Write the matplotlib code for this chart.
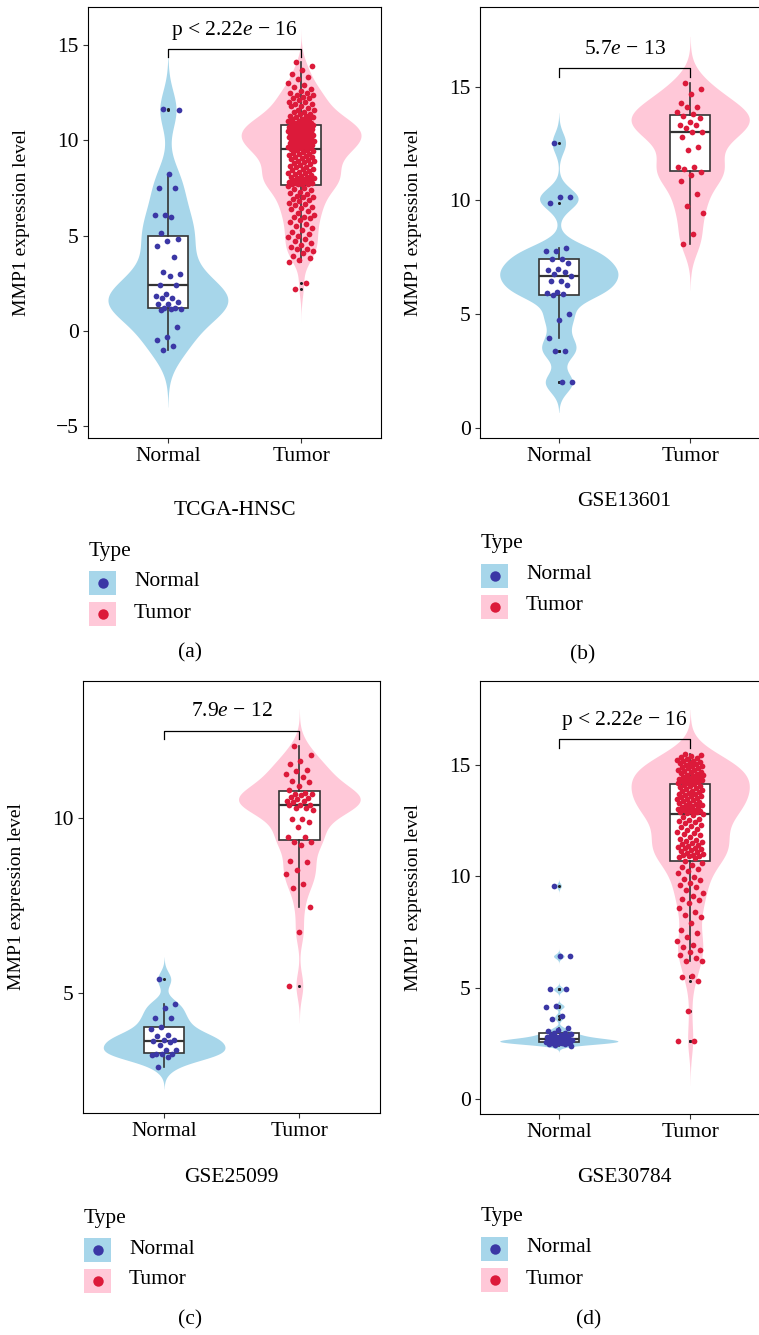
import numpy as np
import matplotlib
matplotlib.use("Agg")
import matplotlib.pyplot as plt
from matplotlib.patches import Rectangle
from matplotlib.lines import Line2D

plt.rcParams['font.family'] = ['Liberation Serif', 'DejaVu Serif']
plt.rcParams['mathtext.fontset'] = 'custom'
plt.rcParams['mathtext.rm'] = 'Liberation Serif'
plt.rcParams['mathtext.it'] = 'Liberation Serif:italic'

# ---------------- data ----------------
groups = ["Normal", "Tumor"]
datasets = ["TCGA-HNSC", "GSE13601", "GSE25099", "GSE30784"]
pvalues = [r"p < 2.22$\mathit{e}$ − 16", r"5.7$\mathit{e}$ − 13",
           r"7.9$\mathit{e}$ − 12", r"p < 2.22$\mathit{e}$ − 16"]
captions = ["(a)", "(b)", "(c)", "(d)"]

tcga_normal = [11.62, 11.6, 8.23, 7.51, 7.51, 6.1, 6.1, 5.99, 5.11, 4.83, 4.73,
               4.45, 3.89, 3.07, 2.96, 2.87, 2.4, 2.4, 1.93, 1.8, 1.74, 1.74,
               1.53, 1.4, 1.4, 1.2, 1.18, 1.15, 1.12, 1.09, 0.18, -0.35, -0.49,
               -0.78, -1.01]
tcga_tumor = [14.1, 13.9, 13.7, 13.5, 13.3, 13.2, 13.0, 12.9, 12.8, 12.7, 12.6,
              12.5, 12.5, 12.4, 12.4, 12.3, 12.2, 12.2, 12.1, 12.0, 12.0, 11.9,
              11.9, 11.8, 11.8, 11.7, 11.6, 11.6, 11.5, 11.5, 11.4, 11.4, 11.3,
              11.3, 11.2, 11.2, 11.1, 11.1, 11.1, 11.0, 11.0, 11.0, 10.9, 10.9,
              10.9, 10.9, 10.85, 10.85, 10.8, 10.8,
              10.78, 10.75, 10.73, 10.7, 10.67, 10.66, 10.62, 10.6, 10.57, 10.55,
              10.53, 10.5, 10.47, 10.45, 10.43, 10.4, 10.37, 10.35, 10.33, 10.3,
              10.27, 10.25, 10.22, 10.2, 10.19, 10.15, 10.13, 10.1, 10.07, 10.05,
              10.03, 10.0, 9.98, 9.95, 9.93, 9.9, 9.87, 9.85, 9.83, 9.8, 9.78,
              9.75, 9.73, 9.7, 9.68, 9.66, 9.64, 9.62, 9.6, 9.58,
              9.55, 9.5, 9.47, 9.42, 9.4, 9.35, 9.3, 9.28, 9.22, 9.2, 9.15, 9.1,
              9.05, 9.0, 8.97, 8.92, 8.9, 8.85, 8.8, 8.76, 8.7, 8.65, 8.62, 8.58,
              8.52, 8.5, 8.45, 8.4, 8.36, 8.3, 8.27, 8.22, 8.2, 8.15, 8.1, 8.06,
              8.02, 8.0, 7.96, 7.92, 7.9, 7.86, 7.82, 7.8, 7.78, 7.75, 7.73, 7.71,
              7.7, 7.69,
              7.6, 7.5, 7.45, 7.4, 7.3, 7.25, 7.2, 7.1, 7.05, 7.0, 6.9, 6.85, 6.8,
              6.7, 6.65, 6.6, 6.5, 6.45, 6.4, 6.3, 6.2, 6.1, 6.0, 5.95, 5.9, 5.8,
              5.7, 5.6, 5.5, 5.4, 5.3, 5.2, 5.1, 5.0, 4.9, 4.8, 4.7, 4.6, 4.5,
              4.4, 4.3, 4.3, 4.2, 4.1, 3.9, 3.8, 3.7, 3.6, 2.5, 2.2]

gse13601_normal = [12.53, 10.16, 10.16, 9.88, 7.9, 7.76, 7.76, 7.44, 7.44, 7.25,
                   7.0, 6.96, 6.84, 6.78, 6.69, 6.44, 6.44, 6.27, 5.99, 5.94,
                   5.9, 5.83, 5.02, 4.73, 3.96, 3.39, 3.39, 2.01, 2.01]
gse13601_tumor = [15.18, 14.91, 14.66, 14.27, 14.12, 14.1, 13.88, 13.8, 13.7,
                  13.63, 13.44, 13.33, 13.33, 13.2, 13.0, 13.0, 12.8, 12.34,
                  12.23, 11.48, 11.48, 11.4, 11.26, 11.11, 10.85, 10.29, 9.77,
                  9.45, 8.53, 8.09]

gse25099_normal = [5.38, 4.67, 4.57, 4.28, 4.28, 4.02, 3.97, 3.79, 3.77, 3.64,
                   3.64, 3.6, 3.58, 3.5, 3.36, 3.36, 3.24, 3.24, 3.24, 3.2,
                   3.16, 2.88]
gse25099_tumor = [12.07, 11.81, 11.65, 11.55, 11.39, 11.34, 11.27, 11.18, 11.07,
                  11.04, 10.91, 10.8, 10.72, 10.7, 10.68, 10.65, 10.6, 10.57,
                  10.55, 10.48, 10.48, 10.45, 10.38, 10.38, 10.38, 10.29, 10.29,
                  10.24, 9.97, 9.97, 9.88, 9.76, 9.45, 9.45, 9.33, 9.33, 9.24,
                  8.78, 8.73, 8.52, 8.4, 8.1, 8.01, 7.44, 6.73, 5.2]

gse30784_normal = [9.58, 6.42, 6.42, 4.93, 4.93, 4.18, 4.15, 3.74, 3.6,
                   3.2, 3.12, 3.05, 2.98, 2.95, 2.93, 2.9, 2.86, 2.83, 2.8,
                   2.78, 2.76, 2.74, 2.72, 2.7, 2.68, 2.67, 2.66, 2.65, 2.65,
                   2.64, 2.63, 2.62, 2.61, 2.6, 2.59, 2.58, 2.57, 2.56, 2.56,
                   2.55, 2.55, 2.54, 2.53, 2.52, 2.51, 2.49, 2.47, 2.44, 2.4]
gse30784_tumor = [15.5, 15.45, 15.4, 15.35, 15.3, 15.28, 15.25, 15.2, 15.18,
                  15.15, 15.1, 15.08, 15.05, 15.0, 14.98, 14.95, 14.9, 14.88,
                  14.85, 14.8, 14.78, 14.75, 14.7, 14.68, 14.65, 14.6, 14.58,
                  14.55, 14.5, 14.48, 14.45, 14.42, 14.4, 14.38, 14.35, 14.32,
                  14.3, 14.27, 14.25, 14.22, 14.2,
                  14.15, 14.1, 14.07, 14.05, 14.0, 13.97, 13.93, 13.9, 13.86,
                  13.82, 13.8, 13.76, 13.72, 13.7, 13.66, 13.62, 13.6, 13.56,
                  13.52, 13.5, 13.46, 13.42, 13.4, 13.36, 13.32, 13.3, 13.26,
                  13.22, 13.2, 13.16, 13.12, 13.1, 13.06, 13.03, 13.0, 12.97,
                  12.95, 12.93, 12.91, 12.89, 12.87,
                  12.8, 12.74, 12.68, 12.6, 12.55, 12.5, 12.44, 12.38, 12.3,
                  12.25, 12.2, 12.14, 12.08, 12.0, 11.95, 11.9, 11.84, 11.78,
                  11.7, 11.65, 11.6, 11.55, 11.5, 11.46, 11.42, 11.38, 11.34,
                  11.3, 11.26, 11.22, 11.18, 11.14, 11.1, 11.06, 11.02, 10.98,
                  10.95, 10.92, 10.9, 10.87, 10.85,
                  10.7, 10.6, 10.5, 10.43, 10.35, 10.25, 10.15, 9.99, 9.9, 9.84,
                  9.7, 9.6, 9.54, 9.4, 9.27, 9.1, 9.01, 8.94, 8.8, 8.6, 8.4,
                  8.26, 8.16, 7.9, 7.6, 7.44, 7.29, 7.1, 6.92, 6.85, 6.69, 6.6,
                  6.47, 6.35, 6.21, 6.2, 5.52, 5.49, 5.31, 3.95, 2.62, 2.62]

all_data = [(tcga_normal, tcga_tumor), (gse13601_normal, gse13601_tumor),
            (gse25099_normal, gse25099_tumor), (gse30784_normal, gse30784_tumor)]

violin_colors = ["#A7D6EA", "#FFC8D8"]
point_colors = ["#3B37A5", "#DC1A3A"]

# ---------------- layout (pixels) ----------------
W, H = 759, 1335
def fx(px):
    return px / W
def fy(py):
    return 1 - py / H

# axes box: left, top, right, bottom
ax_boxes = [(88, 7, 381, 438), (480, 7, 769, 438),
            (83, 681, 380.5, 1113), (480, 681, 769, 1114)]
ylims = [(-5.63, 17.0), (-0.44, 18.5), (1.55, 13.93), (-0.67, 18.78)]
yticks = [[-5, 0, 5, 10, 15], [0, 5, 10, 15], [5, 10], [0, 5, 10, 15]]
brackets = [(14.35, 14.79, 15.75), (15.44, 15.81, 16.65),
            (12.27, 12.51, 13.05), (15.79, 16.17, 17.0)]
sub_y = [510, 502, 1178, 1178]
leg_top = [551, 544, 1218, 1217]
cap_pos = [(190, 653), (583, 655), (190, 1320), (589, 1320)]

fig = plt.figure(figsize=(W / 100, H / 100), dpi=100)


def kde_violin(ax, vals, pos, color):
    x = np.asarray(vals, dtype=float)
    n = len(x)
    sd = x.std(ddof=1)
    iqr = np.subtract(*np.percentile(x, [75, 25]))
    bw = 0.8 * 0.9 * min(sd, iqr / 1.34) * n ** (-0.2)
    grid = np.linspace(x.min() - 3 * bw, x.max() + 3 * bw, 512)
    dens = np.exp(-0.5 * ((grid[:, None] - x[None, :]) / bw) ** 2).sum(axis=1)
    half = dens / dens.max() * 0.45
    ax.fill_betweenx(grid, pos - half, pos + half, color=color, lw=0, zorder=1)


for k in range(4):
    l, t, r, b = ax_boxes[k]
    ax = fig.add_axes([fx(l), fy(b), (r - l) / W, (b - t) / H])
    normal, tumor = all_data[k]
    for i, vals in enumerate([normal, tumor]):
        pos = i + 1
        kde_violin(ax, vals, pos, violin_colors[i])
        ax.boxplot([vals], positions=[pos], widths=0.3, patch_artist=True,
                   showcaps=False, zorder=2,
                   boxprops=dict(facecolor="white", edgecolor="#333333", lw=1.2),
                   medianprops=dict(color="#333333", lw=1.6),
                   whiskerprops=dict(color="#333333", lw=1.2),
                   flierprops=dict(marker="o", markersize=2.2, markerfacecolor="#222222",
                                   markeredgecolor="none"))
        idx = np.arange(len(vals))
        jit = ((idx * 0.618034 + 0.3) % 1 * 2 - 1) * 0.1
        ax.scatter(pos + jit, vals, s=17, color=point_colors[i], lw=0, zorder=3)

    y0, y1, yt = brackets[k]
    ax.plot([1, 1, 2, 2], [y0, y1, y1, y0], color="black", lw=0.9, zorder=4)
    ax.text(1.5, yt, pvalues[k], ha="center", va="center", fontsize=15.5)

    ax.set_xlim(0.4, 2.6)
    ax.set_ylim(*ylims[k])
    ax.set_xticks([1, 2])
    ax.set_xticklabels(groups, fontsize=15.5)
    ax.set_yticks(yticks[k])
    ax.set_yticklabels([str(v) if v >= 0 else "−" + str(-v) for v in yticks[k]], fontsize=15.5)
    ax.tick_params(direction="out", length=3.6, width=0.8, color="#333333", pad=3)
    for s in ax.spines.values():
        s.set_linewidth(0.8)
        s.set_color("black")
    ax.set_ylabel("MMP1 expression level", fontsize=14)
    ax.yaxis.set_label_coords(-58 / (r - l), 0.5)

    cx = (l + r) / 2 if k % 2 == 0 else (l + 768) / 2
    fig.text(fx(cx), fy(sub_y[k]), datasets[k], ha="center", va="center", fontsize=15.5)

    # legend
    lt = leg_top[k]
    fig.text(fx(l + 1), fy(lt), "Type", ha="left", va="center", fontsize=15.5)
    for i, g in enumerate(groups):
        ky = lt + 32 + i * 31
        fig.add_artist(Rectangle((fx(l + 1), fy(ky + 12)), 27 / W, 24 / H,
                                 transform=fig.transFigure, color=violin_colors[i], lw=0))
        fig.add_artist(Line2D([fx(l + 14.5)], [fy(ky)], marker="o", markersize=7.5,
                              color=point_colors[i], markeredgewidth=0,
                              transform=fig.transFigure))
        fig.text(fx(l + 46), fy(ky - 1), g, ha="left", va="center", fontsize=15.5)

    fig.text(fx(cap_pos[k][0]), fy(cap_pos[k][1]), captions[k], ha="center",
             va="center", fontsize=15.5)

fig.savefig("out.png", dpi=100)
